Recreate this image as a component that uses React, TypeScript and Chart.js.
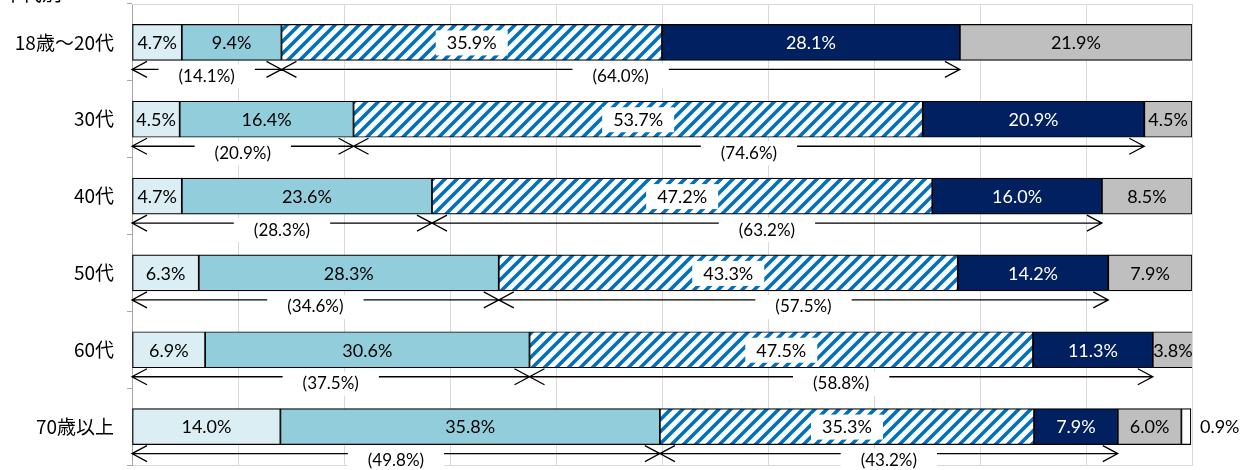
import React, { useEffect, useRef } from "react";
import { Chart, registerables } from "chart.js";
Chart.register(...registerables);

const categories = ["18歳～20代", "30代", "40代", "50代", "60代", "70歳以上"];
const s1 = [4.7, 4.5, 4.7, 6.3, 6.9, 14.0];
const s2 = [9.4, 16.4, 23.6, 28.3, 30.6, 35.8];
const s3 = [35.9, 53.7, 47.2, 43.3, 47.5, 35.3];
const s4 = [28.1, 20.9, 16.0, 14.2, 11.3, 7.9];
const s5 = [21.9, 4.5, 8.5, 7.9, 3.8, 6.0];
const s6 = [0, 0, 0, 0, 0, 0.9];
const leftTotals = ["(14.1%)", "(20.9%)", "(28.3%)", "(34.6%)", "(37.5%)", "(49.8%)"];
const rightTotals = ["(64.0%)", "(74.6%)", "(63.2%)", "(57.5%)", "(58.8%)", "(43.2%)"];
const titleText = "年代別";

const NUM_FONT = "Lato, 'Noto Sans', sans-serif";
const JP_FONT = "'Noto Sans CJK JP', sans-serif";

function makeHatch(ctx: CanvasRenderingContext2D) {
  const s = 12;
  const c = document.createElement("canvas");
  c.width = s;
  c.height = s;
  const g = c.getContext("2d")!;
  g.fillStyle = "#ffffff";
  g.fillRect(0, 0, s, s);
  g.strokeStyle = "#0070C0";
  g.lineWidth = 3.6;
  g.beginPath();
  g.moveTo(0, s);
  g.lineTo(s, 0);
  g.moveTo(-s / 2, s / 2);
  g.lineTo(s / 2, -s / 2);
  g.moveTo(s / 2, s * 1.5);
  g.lineTo(s * 1.5, s / 2);
  g.stroke();
  return ctx.createPattern(c, "repeat");
}

const labelPlugin = {
  id: "segLabels",
  afterDatasetsDraw(chart: any) {
    const ctx: CanvasRenderingContext2D = chart.ctx;
    ctx.save();
    ctx.font = `18px ${NUM_FONT}`;
    ctx.textBaseline = "middle";
    chart.data.datasets.forEach((ds: any, di: number) => {
      const meta = chart.getDatasetMeta(di);
      meta.data.forEach((bar: any, i: number) => {
        const v = ds.data[i];
        if (!v) return;
        const p = bar.getProps(["x", "y", "base"], true);
        const text = v.toFixed(1) + "%";
        const w = ctx.measureText(text).width;
        if (di === 5) {
          ctx.textAlign = "left";
          ctx.fillStyle = "#000";
          ctx.fillText(text, p.x + 9, p.y + 1);
          return;
        }
        const cx = (p.x + p.base) / 2;
        ctx.textAlign = "center";
        if (di === 2) {
          ctx.fillStyle = "#fff";
          ctx.fillRect(cx - w / 2 - 11, p.y - 12, w + 22, 25);
        }
        ctx.fillStyle = di === 3 ? "#fff" : "#000";
        ctx.fillText(text, cx, p.y + 1);
      });
    });
    ctx.restore();
  },
};

const bracketPlugin = {
  id: "brackets",
  afterDraw(chart: any) {
    const ctx: CanvasRenderingContext2D = chart.ctx;
    const xs = chart.scales.x;
    const ys = chart.scales.y;
    ctx.save();
    ctx.strokeStyle = "#000";
    ctx.lineWidth = 1.3;
    const ah = 15;
    const av = 8;
    categories.forEach((_, i) => {
      const yc = ys.getPixelForValue(i);
      const yl = yc + 27;
      const x0 = xs.getPixelForValue(0);
      const xA = xs.getPixelForValue(s1[i] + s2[i]);
      const xB = xs.getPixelForValue(s1[i] + s2[i] + s3[i] + s4[i]);
      ctx.beginPath();
      ctx.moveTo(x0, yl);
      ctx.lineTo(xB, yl);
      ctx.moveTo(x0 + ah, yl - av);
      ctx.lineTo(x0, yl);
      ctx.lineTo(x0 + ah, yl + av);
      ctx.moveTo(xA - ah, yl - av);
      ctx.lineTo(xA, yl);
      ctx.lineTo(xA - ah, yl + av);
      ctx.moveTo(xA + ah, yl - av);
      ctx.lineTo(xA, yl);
      ctx.lineTo(xA + ah, yl + av);
      ctx.moveTo(xB - ah, yl - av);
      ctx.lineTo(xB, yl);
      ctx.lineTo(xB - ah, yl + av);
      ctx.stroke();

      ctx.font = `17px ${NUM_FONT}`;
      ctx.textAlign = "center";
      ctx.textBaseline = "middle";
      const drawLbl = (t: string, cx: number) => {
        const w = ctx.measureText(t).width;
        ctx.fillStyle = "#fff";
        ctx.fillRect(cx - w / 2 - 20, yl - 5, w + 40, 24);
        ctx.fillStyle = "#000";
        ctx.fillText(t, cx, yl + 7);
      };
      drawLbl(leftTotals[i], (x0 + xA) / 2);
      drawLbl(rightTotals[i], (xA + xB) / 2);
    });
    ctx.font = `20px ${JP_FONT}`;
    ctx.textAlign = "left";
    ctx.textBaseline = "alphabetic";
    ctx.fillStyle = "#000";
    ctx.fillText(titleText, 2, 1);
    ctx.restore();
  },
};

const frameTopPlugin = {
  id: "frameTop",
  beforeDatasetsDraw(chart: any) {
    const { ctx, chartArea } = chart;
    ctx.save();
    ctx.strokeStyle = "#D9D9D9";
    ctx.lineWidth = 1;
    ctx.beginPath();
    ctx.moveTo(chartArea.left, chartArea.top + 0.5);
    ctx.lineTo(chartArea.right, chartArea.top + 0.5);
    ctx.stroke();
    ctx.restore();
  },
};

export default function App() {
  const ref = useRef<HTMLCanvasElement>(null);
  useEffect(() => {
    document.body.style.margin = "0";
    const canvas = ref.current!;
    const ctx = canvas.getContext("2d")!;
    const hatch = makeHatch(ctx);
    const common = { barThickness: 36, borderColor: "#000", borderWidth: 1.2, borderSkipped: false };
    const chart = new Chart(canvas, {
      type: "bar",
      data: {
        labels: categories,
        datasets: [
          { data: s1, backgroundColor: "#DAEEF3", ...common },
          { data: s2, backgroundColor: "#92CDDC", ...common },
          { data: s3, backgroundColor: hatch as any, ...common },
          { data: s4, backgroundColor: "#002060", ...common },
          { data: s5, backgroundColor: "#BFBFBF", ...common },
          { data: s6, backgroundColor: "#FFFFFF", ...common },
        ] as any,
      },
      options: {
        indexAxis: "y",
        animation: false,
        responsive: false,
        maintainAspectRatio: false,
        layout: { padding: { top: 4, right: 60, bottom: 5, left: 0 } },
        plugins: { legend: { display: false }, tooltip: { enabled: false }, title: { display: false } },
        scales: {
          x: {
            stacked: true,
            min: 0,
            max: 100,
            ticks: { display: false, stepSize: 10 },
            grid: { color: "#D9D9D9", drawTicks: false },
            border: { color: "#D9D9D9" },
            afterFit: (s: any) => {
              s.height = 0;
              s.paddingLeft = 0;
              s.paddingRight = 0;
            },
          },
          y: {
            stacked: true,
            afterFit: (s: any) => {
              s.width = 132;
              s.paddingTop = 0;
              s.paddingBottom = 0;
            },
            ticks: { color: "#000", font: { size: 19, family: JP_FONT }, padding: 13 },
            grid: { drawOnChartArea: false, tickLength: 5, color: "#A6A6A6", offset: true },
            border: { color: "#A6A6A6" },
          },
        },
      } as any,
      plugins: [frameTopPlugin, labelPlugin, bracketPlugin],
    });
    return () => chart.destroy();
  }, []);
  return (
    <div style={{ width: 1252, height: 470 }}>
      <canvas ref={ref} width={1252} height={470} style={{ display: "block" }} />
    </div>
  );
}
